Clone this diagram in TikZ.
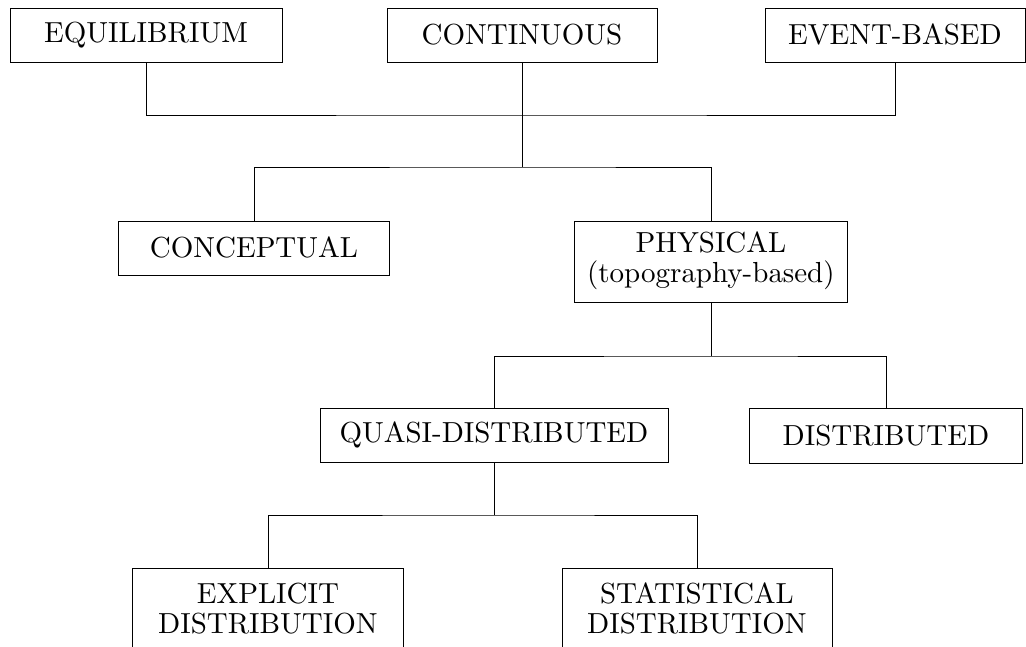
\documentclass[tikz,border=0pt]{standalone}
\font\treefont=cmr10 at 29pt
\newcommand\treetext{\treefont\baselineskip=30pt\relax}
\tikzset{
  box/.style={draw, rectangle, inner sep=0pt, align=center, font=\treetext, line width=0.9pt},
  link/.style={draw, line width=0.9pt},
}
\begin{document}
\begin{tikzpicture}[x=1pt, y=-1pt]
\clip (0,0) rectangle (1026,646);
\node[box, minimum width=272pt, minimum height=54pt] (eq) at (146,35) {EQUILIBRIUM};
\node[box, minimum width=270pt, minimum height=54pt] (cont) at (522,35) {CONTINUOUS};
\node[box, minimum width=260pt, minimum height=54pt] (eb) at (895,35) {EVENT-BASED};
\node[box, minimum width=271pt, minimum height=54pt] (conc) at (254,248) {CONCEPTUAL};
\node[box, minimum width=273pt, minimum height=81pt] (phys) at (711,261.5) {PHYSICAL\\(topography-based)};
\node[box, minimum width=348pt, minimum height=54pt] (qd) at (494,435) {QUASI-DISTRIBUTED};
\node[box, minimum width=273pt, minimum height=55pt] (dist) at (886,435.5) {DISTRIBUTED};
\node[box, minimum width=271pt, minimum height=81pt] (expl) at (268,608.5) {EXPLICIT\\DISTRIBUTION};
\node[box, minimum width=270pt, minimum height=81pt] (stat) at (697,608.5) {STATISTICAL\\DISTRIBUTION};
\coordinate (j1) at (522,115);
\coordinate (j2) at (522,167);
\coordinate (j3) at (711,356);
\coordinate (j4) at (494,515);
\draw[link] (eq.south) |- (j1) -| (eb.south);
\draw[link] (cont.south) -- (j2);
\draw[link] (conc.north) |- (j2) -| (phys.north);
\draw[link] (phys.south) -- (j3);
\draw[link] (qd.north) |- (j3) -| (dist.north);
\draw[link] (qd.south) -- (j4);
\draw[link] (expl.north) |- (j4) -| (stat.north);
\end{tikzpicture}
\end{document}
